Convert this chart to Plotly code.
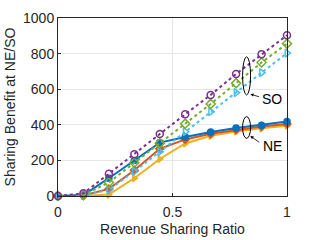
import plotly.graph_objects as go

ratio = [0, 1/9, 2/9, 3/9, 4/9, 5/9, 6/9, 7/9, 8/9, 1.0]

ne_blue = [0, 5, 100, 200, 300, 332, 360, 382, 398, 418]
ne_orange = [0, 3, 40, 145, 265, 318, 350, 372, 390, 405]
ne_yellow = [0, 0, 8, 100, 208, 295, 338, 362, 380, 395]

so_purple = [0, 15, 125, 234, 348, 459, 568, 686, 797, 903]
so_green = [0, 5, 76, 187, 296, 406, 517, 634, 750, 856]
so_cyan = [0, 3, 35, 138, 249, 361, 474, 581, 693, 803]

x_ticks = [0, 0.5, 1]
x_tick_labels = ["0", "0.5", "1"]
y_ticks = [0, 200, 400, 600, 800, 1000]
y_tick_labels = ["0", "200", "400", "600", "800", "1000"]

fig = go.Figure()

def add(y, color, symbol, dash, filled):
    fig.add_trace(go.Scatter(
        x=ratio, y=y, mode="lines+markers",
        line=dict(color=color, width=2, dash=dash),
        marker=dict(symbol=symbol if filled else symbol + "-open", size=6 if filled else 7,
                    color=color, line=dict(color=color, width=1.5)),
        cliponaxis=False, showlegend=False))

add(ne_yellow, "#EDB120", "triangle-right", "solid", True)
add(ne_orange, "#D95319", "diamond", "solid", True)
add(ne_blue, "#0072BD", "circle", "solid", True)
add(so_cyan, "#4DBEEE", "triangle-right", "dot", False)
add(so_green, "#77AC30", "diamond", "dot", False)
add(so_purple, "#7E2F8E", "circle", "dot", False)

fig.add_shape(type="circle", xref="x", yref="y", x0=0.806, x1=0.841, y0=568, y1=782,
              line=dict(color="black", width=1))
fig.add_shape(type="circle", xref="x", yref="y", x0=0.806, x1=0.841, y0=324, y1=446,
              line=dict(color="black", width=1))

fig.add_annotation(x=0.84, y=572, ax=0.885, ay=555, xref="x", yref="y", axref="x", ayref="y",
                   text="", showarrow=True, arrowhead=2, arrowsize=0.8, arrowwidth=0.8, arrowcolor="black")
fig.add_annotation(x=0.84, y=337, ax=0.885, ay=296, xref="x", yref="y", axref="x", ayref="y",
                   text="", showarrow=True, arrowhead=2, arrowsize=0.8, arrowwidth=0.8, arrowcolor="black")
fig.add_annotation(x=0.935, y=543, xref="x", yref="y", text="SO", showarrow=False,
                   font=dict(size=14, color="black"))
fig.add_annotation(x=0.935, y=281, xref="x", yref="y", text="NE", showarrow=False,
                   font=dict(size=14, color="black"))

axis_common = dict(showline=True, linecolor="#262626", linewidth=1, mirror=True,
                   showgrid=True, gridcolor="#E6E6E6", gridwidth=1,
                   ticks="inside", ticklen=3, tickcolor="#262626", zeroline=False,
                   automargin=False,
                   tickfont=dict(size=14, color="#262626"))

fig.update_xaxes(range=[0, 1], tickvals=x_ticks, ticktext=x_tick_labels, ticklabelstandoff=3,
                 title=dict(text="Revenue Sharing Ratio", font=dict(size=14, color="#262626"), standoff=5),
                 **axis_common)
fig.update_yaxes(range=[0, 1000], tickvals=y_ticks, ticktext=y_tick_labels,
                 title=dict(text="Sharing Benefit at NE/SO", font=dict(size=14, color="#262626"), standoff=4),
                 **axis_common)

fig.update_layout(width=318, height=240, margin=dict(l=58, r=31, t=18, b=44),
                  paper_bgcolor="white", plot_bgcolor="white",
                  font=dict(family="Liberation Sans, Arial, sans-serif"))

fig.write_html("out.html", config={"displayModeBar": False},
               post_script="document.body.style.margin='0';")
